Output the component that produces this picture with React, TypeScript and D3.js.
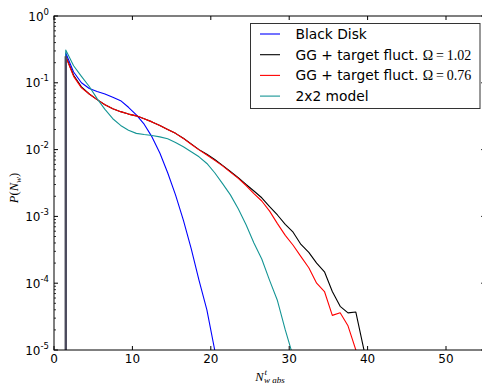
import React from 'react';
import * as d3 from 'd3';

// bins start at N = 0.5, step 1
const binStart = 0.5;
const blackDisk = [0, 0.28, 0.145, 0.1, 0.082, 0.074, 0.068, 0.061, 0.054, 0.043, 0.033, 0.024, 0.0155, 0.0089, 0.0045, 0.0021, 0.00088, 0.00033, 0.00011, 0.00004, 0.00001, 0.000003];
const ggOmega102 = [0, 0.25, 0.13, 0.087, 0.068, 0.056, 0.047, 0.041, 0.037, 0.034, 0.032, 0.029, 0.026, 0.023, 0.02, 0.0175, 0.0148, 0.0122, 0.01, 0.0085, 0.0071, 0.0058, 0.0047, 0.0038, 0.003, 0.0024, 0.0019, 0.0014, 0.00105, 0.00076, 0.00058, 0.00038, 0.00029, 0.0002, 0.000148, 0.000075, 0.000045, 0.000036, 0.000037, 0.0000105, 0.000003];
const ggOmega076 = [0, 0.245, 0.125, 0.084, 0.068, 0.056, 0.047, 0.041, 0.037, 0.034, 0.032, 0.029, 0.026, 0.023, 0.02, 0.0175, 0.0147, 0.012, 0.0099, 0.0083, 0.0069, 0.0057, 0.0046, 0.0037, 0.0029, 0.0022, 0.0017, 0.0012, 0.00078, 0.00052, 0.00037, 0.00025, 0.00017, 0.0001, 0.000075, 0.000033, 0.000036, 0.000023, 0.00001, 0.000003];
const model2x2 = [0, 0.31, 0.18, 0.125, 0.088, 0.058, 0.04, 0.029, 0.023, 0.0195, 0.0175, 0.0168, 0.0163, 0.0155, 0.0145, 0.0128, 0.011, 0.0093, 0.0078, 0.0062, 0.0045, 0.0031, 0.0021, 0.0013, 0.00075, 0.0004, 0.00023, 0.00011, 0.000055, 0.00002, 0.000008];

const seriesNames = ['Black Disk', 'GG + target fluct. ', 'GG + target fluct. ', '2x2 model'];
const seriesMath = ['', 'Ω=1.02', 'Ω=0.76', ''];
const seriesColors = ['#0000ff', '#000000', '#ff0000', '#159595'];
const seriesData = [blackDisk, ggOmega102, ggOmega076, model2x2];

const xTicks = [0, 10, 20, 30, 40, 50];
const yTickExps = [0, -1, -2, -3, -4, -5];
const xDomain = [0, 55];
const yDomain = [1e-5, 1];

const W = 482, H = 384;
const left = 54, right = 485.2, top = 16, bottom = 350;

export default function App() {
  const x = d3.scaleLinear().domain(xDomain).range([left, right]);
  const y = d3.scaleLog().domain(yDomain).range([bottom, top]);
  const tiny = 1e-300;
  const line = d3.line<[number, number]>()
    .x(d => x(d[0]))
    .y(d => y(Math.max(d[1], tiny)));

  const minorY: number[] = [];
  for (let e = -5; e < 0; e++) {
    for (let k = 2; k <= 9; k++) minorY.push(k * Math.pow(10, e));
  }

  const startX = binStart + 1;
  const startY = ggOmega102[1];

  const sans = 'DejaVu Sans, sans-serif';
  const serif = 'Liberation Serif, DejaVu Serif, serif';
  const xMid = (left + right) / 2;

  return (
    <svg width={W} height={H} style={{ position: 'absolute', left: 0, top: 0 }}>
      <defs>
        <clipPath id="plot">
          <rect x={left} y={top} width={right - left} height={bottom - top} />
        </clipPath>
      </defs>
      <rect x={0} y={0} width={W} height={H} fill="#fff" />
      <g clipPath="url(#plot)">
        {seriesData.map((vals, i) => (
          <path key={i}
            d={line(vals.map((v, j) => [binStart + j, v] as [number, number])) || ''}
            fill="none" stroke={seriesColors[i]} strokeWidth={1.1} strokeLinejoin="round" />
        ))}
        <line x1={x(startX)} x2={x(startX)} y1={y(startY)} y2={bottom + 5}
          stroke="#4b4b5c" strokeWidth={2.4} />
      </g>
      {/* spines */}
      <rect x={left} y={top} width={right - left} height={bottom - top} fill="none" stroke="#000" strokeWidth={1} />
      {/* x ticks */}
      {xTicks.map(t => (
        <g key={t}>
          <line x1={x(t)} x2={x(t)} y1={bottom} y2={bottom - 4} stroke="#000" />
          <line x1={x(t)} x2={x(t)} y1={top} y2={top + 4} stroke="#000" />
          <text x={x(t)} y={bottom + 13} textAnchor="middle" fontFamily={sans} fontSize={12}>{t}</text>
        </g>
      ))}
      {/* y ticks */}
      {yTickExps.map(e => (
        <g key={e}>
          <line x1={left} x2={left + 4} y1={y(Math.pow(10, e))} y2={y(Math.pow(10, e))} stroke="#000" />
          <line x1={right} x2={right - 4} y1={y(Math.pow(10, e))} y2={y(Math.pow(10, e))} stroke="#000" />
          <text x={left - 5} y={y(Math.pow(10, e)) + 4.5} textAnchor="end" fontFamily={sans} fontSize={12}>
            10<tspan dy={-6} fontSize={8.5}>{e === 0 ? '0' : '-' + Math.abs(e)}</tspan>
          </text>
        </g>
      ))}
      {minorY.map((v, i) => (
        <g key={i}>
          <line x1={left} x2={left + 2} y1={y(v)} y2={y(v)} stroke="#000" strokeWidth={0.8} />
          <line x1={right} x2={right - 2} y1={y(v)} y2={y(v)} stroke="#000" strokeWidth={0.8} />
        </g>
      ))}
      {/* axis labels */}
      <text x={xMid - 6} y={380.5} textAnchor="end" fontFamily={serif} fontSize={12.5} fontStyle="italic">N</text>
      <text x={xMid - 5} y={374.5} fontFamily={serif} fontSize={9} fontStyle="italic">t</text>
      <text x={xMid - 5.5} y={383} fontFamily={serif} fontSize={9} fontStyle="italic">w abs</text>
      <text transform={`translate(18, ${(top + bottom) / 2 + 5}) rotate(-90)`} textAnchor="middle" fontFamily={serif} fontSize={12.5}>
        <tspan fontStyle="italic">P</tspan>(<tspan fontStyle="italic">N</tspan>
        <tspan dy={3} fontSize={9} fontStyle="italic">w</tspan>
        <tspan dy={-3}>)</tspan>
      </text>
      {/* legend */}
      <g>
        <rect x={250.5} y={23.5} width={229.5} height={85} fill="#fff" stroke="#333" strokeWidth={1} />
        {seriesNames.map((name, i) => {
          const cy = 34 + i * 20.7;
          return (
            <g key={i}>
              <line x1={260} x2={280} y1={cy} y2={cy} stroke={seriesColors[i]} strokeWidth={1.1} />
              <text x={295.5} y={cy + 5} fontFamily={sans} fontSize={13.8}>
                {name}
                {seriesMath[i] ? <tspan fontFamily={serif} fontSize={14}>{seriesMath[i].replace('=', '\u2009=\u2009')}</tspan> : null}
              </text>
            </g>
          );
        })}
      </g>
    </svg>
  );
}
